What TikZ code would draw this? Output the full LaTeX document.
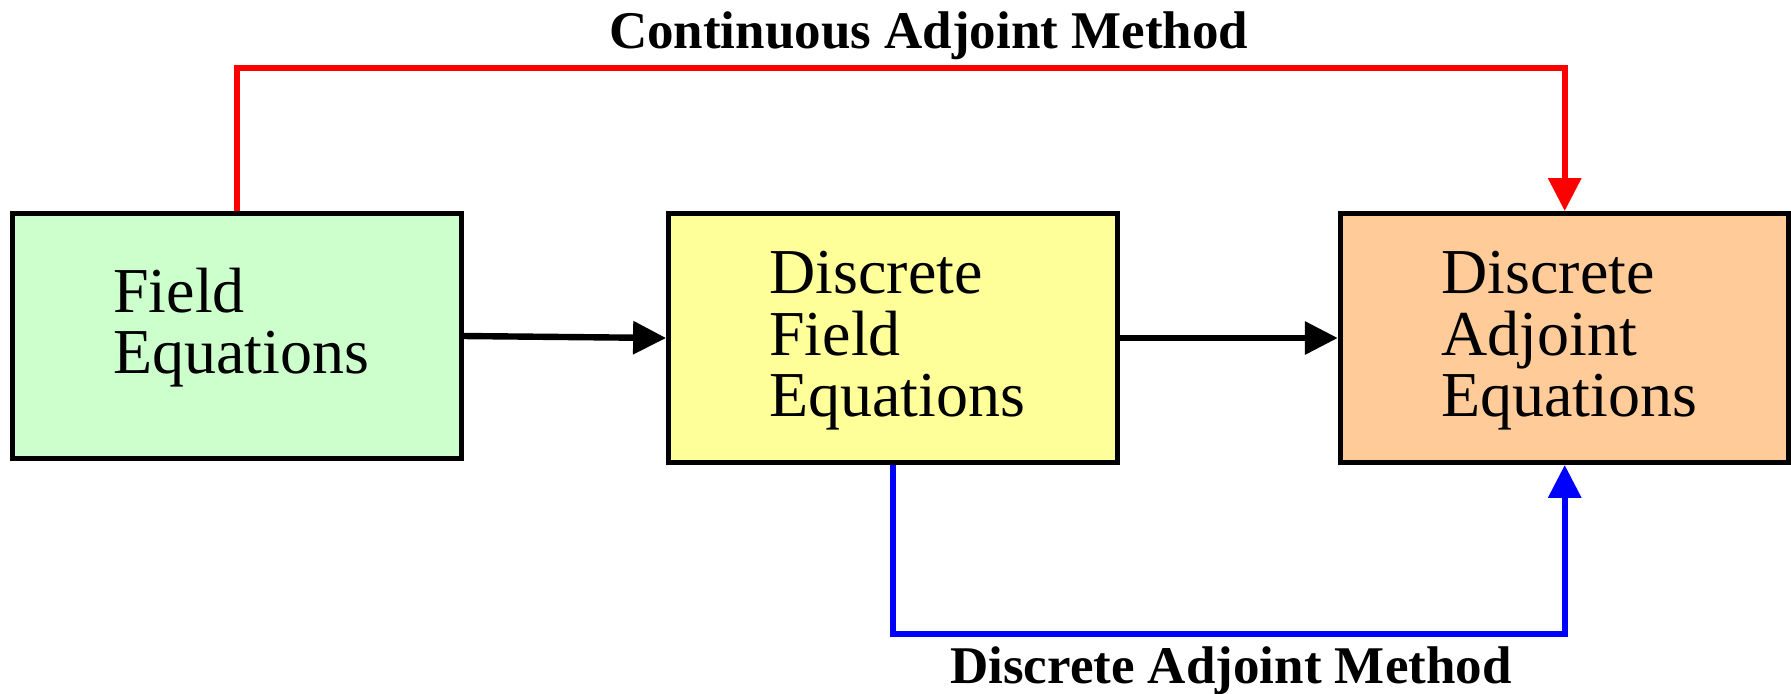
\documentclass[tikz,border=0pt]{standalone}
\usepackage{fontspec}
\setmainfont{Liberation Serif}
\usetikzlibrary{arrows.meta}
\definecolor{boxgreen}{HTML}{CCFFCC}
\definecolor{boxyellow}{HTML}{FFFF99}
\definecolor{boxorange}{HTML}{FFCC99}
\definecolor{linered}{HTML}{FF0000}
\definecolor{lineblue}{HTML}{0000FF}
\tikzset{
  blockbox/.style={draw=black, line width=2.6pt, rectangle, inner sep=0pt, minimum width=224.3pt},
  boxtext/.style={anchor=base west, inner sep=0pt, font=\fontsize{32}{30.5}\selectfont},
  methodlabel/.style={anchor=base, inner sep=0pt, font=\fontsize{26.5}{30}\selectfont\bfseries},
  conn/.style={line width=3.2pt, -{Triangle[length=16.5pt, width=16pt]}},
}
\begin{document}
\begin{tikzpicture}[x=0.5pt, y=-0.5pt]
\useasboundingbox (0,0) rectangle (1791,693);
\node[blockbox, fill=boxgreen, minimum height=122.3pt] (b1) at (237,336) {};
\node[blockbox, fill=boxyellow, minimum height=124.3pt] (b2) at (893,338) {};
\node[blockbox, fill=boxorange, minimum height=124.3pt] (b3) at (1564.7,338) {};
\node[boxtext] (t1) at (113,312) {\begin{tabular}[t]{@{}l@{}}Field\\Equations\end{tabular}};
\node[boxtext] (t2) at (769,293) {\begin{tabular}[t]{@{}l@{}}Discrete\\Field\\Equations\end{tabular}};
\node[boxtext] (t3) at (1441,293) {\begin{tabular}[t]{@{}l@{}}Discrete\\Adjoint\\Equations\end{tabular}};
\coordinate (ctop) at (900,68);
\coordinate (cbot) at (1200,634);
\draw[conn, draw=black] (b1.east) -- (b2.west);
\draw[conn, draw=black] (b2.east) -- (b3.west);
\draw[conn, draw=linered] (b1.north) |- (ctop) -| (b3.north);
\draw[conn, draw=lineblue] (b2.south) |- (cbot) -| (b3.south);
\node[methodlabel] (lc) at (928.6,48) {Continuous Adjoint Method};
\node[methodlabel] (ld) at (1231,683) {Discrete Adjoint Method};
\end{tikzpicture}
\end{document}
